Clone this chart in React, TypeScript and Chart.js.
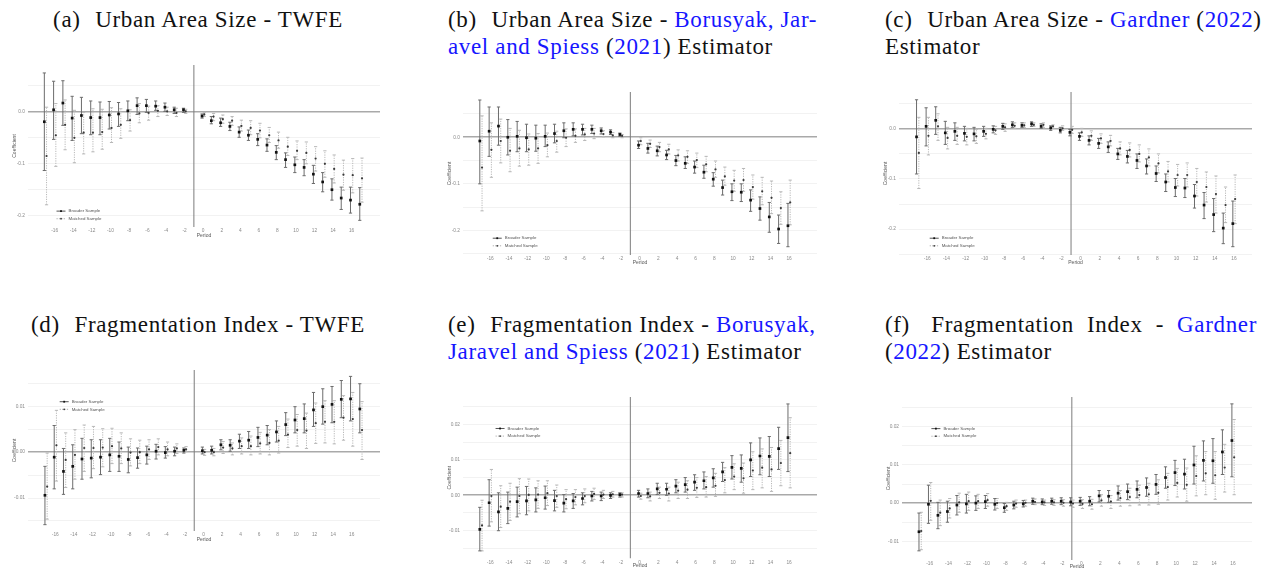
import React, { useEffect, useRef } from "react";
import { Chart, registerables } from "chart.js";

Chart.register(...registerables);

// ---------------------------------------------------------------------------
// Event-time periods used by each estimator
// ---------------------------------------------------------------------------
const twfePeriods = [-17, -16, -15, -14, -13, -12, -11, -10, -9, -8, -7, -6, -5, -4, -3, -2, 0, 1, 2, 3, 4, 5, 6, 7, 8, 9, 10, 11, 12, 13, 14, 15, 16, 17];
const bjsPeriods = [-17, -16, -15, -14, -13, -12, -11, -10, -9, -8, -7, -6, -5, -4, -3, -2, 0, 1, 2, 3, 4, 5, 6, 7, 8, 9, 10, 11, 12, 13, 14, 15, 16];
const gardnerPeriods = [-17, -16, -15, -14, -13, -12, -11, -10, -9, -8, -7, -6, -5, -4, -3, -2, -1, 0, 1, 2, 3, 4, 5, 6, 7, 8, 9, 10, 11, 12, 13, 14, 15, 16];

const periodTicks = [-16, -14, -12, -10, -8, -6, -4, -2, 0, 2, 4, 6, 8, 10, 12, 14, 16];
const REFERENCE_PERIOD = -1;

// y-axis gridlines and labelled ticks
const urbanGrid = [0.05, 0, -0.05, -0.1, -0.15, -0.2, -0.25];
const urbanLabels = [0, -0.1, -0.2];
const fragTwfeGrid = [0.015, 0.01, 0.005, 0, -0.005, -0.01, -0.015];
const fragTwfeLabels = [0.01, 0, -0.01];
const fragGrid = [0.025, 0.02, 0.015, 0.01, 0.005, 0, -0.005, -0.01, -0.015];
const fragLabels = [0.02, 0.01, 0, -0.01];

// ---------------------------------------------------------------------------
// (a) Urban Area Size - TWFE
// ---------------------------------------------------------------------------
const urbanTwfeBroaderEst = [-0.019, 0.004, 0.017, -0.012, -0.007, -0.011, -0.011, -0.006, -0.004, 0.002, 0.012, 0.012, 0.011, 0.009, 0.004, 0.004, -0.008, -0.017, -0.021, -0.028, -0.039, -0.045, -0.053, -0.064, -0.078, -0.092, -0.102, -0.107, -0.12, -0.135, -0.15, -0.166, -0.17, -0.178];
const urbanTwfeBroaderLo = [-0.113, -0.053, -0.026, -0.055, -0.042, -0.044, -0.044, -0.033, -0.028, -0.017, -0.005, -0.001, 0.003, 0.001, -0.003, -0.001, -0.012, -0.023, -0.028, -0.036, -0.049, -0.055, -0.065, -0.076, -0.092, -0.107, -0.117, -0.123, -0.138, -0.154, -0.17, -0.188, -0.195, -0.209];
const urbanTwfeBroaderHi = [0.075, 0.059, 0.06, 0.03, 0.028, 0.021, 0.019, 0.02, 0.018, 0.021, 0.027, 0.024, 0.021, 0.017, 0.009, 0.007, -0.004, -0.009, -0.012, -0.02, -0.029, -0.035, -0.042, -0.052, -0.065, -0.079, -0.087, -0.092, -0.103, -0.117, -0.129, -0.145, -0.145, -0.146];
const urbanTwfeMatchedEst = [-0.085, -0.045, -0.025, -0.05, -0.04, -0.04, -0.039, -0.031, -0.025, -0.016, -0.003, -0.002, 0.002, 0.001, -0.002, 0.001, -0.005, -0.009, -0.014, -0.017, -0.027, -0.031, -0.036, -0.045, -0.055, -0.067, -0.075, -0.079, -0.09, -0.1, -0.11, -0.121, -0.122, -0.128];
const urbanTwfeMatchedLo = [-0.179, -0.105, -0.073, -0.098, -0.081, -0.077, -0.072, -0.059, -0.051, -0.037, -0.021, -0.016, -0.009, -0.007, -0.009, -0.003, -0.009, -0.017, -0.022, -0.026, -0.037, -0.044, -0.05, -0.059, -0.07, -0.084, -0.092, -0.1, -0.114, -0.126, -0.137, -0.151, -0.156, -0.174];
const urbanTwfeMatchedHi = [0.009, 0.016, 0.023, 0.003, -0.001, 0.006, 0.005, 0.008, 0.006, 0.004, 0.016, 0.011, 0.012, 0.009, 0.007, 0.005, -0.001, -0.003, -0.006, -0.009, -0.016, -0.017, -0.022, -0.03, -0.039, -0.049, -0.056, -0.058, -0.067, -0.075, -0.083, -0.093, -0.09, -0.089];

// ---------------------------------------------------------------------------
// (b) Urban Area Size - Borusyak, Jaravel and Spiess
// ---------------------------------------------------------------------------
const urbanBjsBroaderEst = [-0.008, 0.013, 0.024, 0.0, 0.002, -0.001, -0.002, 0.002, 0.008, 0.014, 0.017, 0.017, 0.017, 0.014, 0.011, 0.006, -0.017, -0.024, -0.029, -0.038, -0.05, -0.056, -0.064, -0.075, -0.09, -0.108, -0.117, -0.118, -0.135, -0.153, -0.171, -0.197, -0.19];
const urbanBjsBroaderLo = [-0.1, -0.041, -0.017, -0.038, -0.031, -0.031, -0.03, -0.02, -0.012, -0.001, 0.003, 0.005, 0.008, 0.007, 0.006, 0.002, -0.024, -0.034, -0.04, -0.048, -0.061, -0.067, -0.077, -0.088, -0.105, -0.124, -0.136, -0.138, -0.159, -0.178, -0.204, -0.228, -0.235];
const urbanBjsBroaderHi = [0.08, 0.065, 0.065, 0.038, 0.034, 0.028, 0.026, 0.026, 0.028, 0.031, 0.031, 0.028, 0.026, 0.02, 0.016, 0.009, -0.008, -0.013, -0.019, -0.028, -0.039, -0.042, -0.051, -0.06, -0.076, -0.092, -0.1, -0.1, -0.113, -0.128, -0.14, -0.167, -0.142];
const urbanBjsMatchedEst = [-0.065, -0.027, -0.008, -0.029, -0.024, -0.026, -0.024, -0.017, -0.008, -0.001, 0.003, 0.006, 0.008, 0.007, 0.004, 0.003, -0.008, -0.014, -0.021, -0.026, -0.039, -0.042, -0.049, -0.058, -0.069, -0.084, -0.093, -0.092, -0.107, -0.116, -0.13, -0.152, -0.14];
const urbanBjsMatchedLo = [-0.158, -0.086, -0.055, -0.074, -0.062, -0.06, -0.056, -0.042, -0.032, -0.02, -0.011, -0.007, -0.003, 0.001, -0.001, -0.001, -0.016, -0.022, -0.031, -0.036, -0.051, -0.056, -0.065, -0.074, -0.086, -0.103, -0.116, -0.116, -0.133, -0.145, -0.164, -0.187, -0.188];
const urbanBjsMatchedHi = [0.046, 0.031, 0.039, 0.019, 0.015, 0.007, 0.008, 0.009, 0.013, 0.018, 0.018, 0.019, 0.019, 0.014, 0.01, 0.006, -0.001, -0.006, -0.011, -0.015, -0.027, -0.029, -0.034, -0.041, -0.051, -0.064, -0.071, -0.067, -0.081, -0.086, -0.094, -0.117, -0.092];

// ---------------------------------------------------------------------------
// (c) Urban Area Size - Gardner
// ---------------------------------------------------------------------------
const urbanGardnerBroaderEst = [-0.016, 0.005, 0.017, -0.008, -0.005, -0.009, -0.01, -0.005, -0.001, 0.005, 0.008, 0.007, 0.01, 0.005, 0.002, -0.003, -0.007, -0.015, -0.023, -0.029, -0.036, -0.05, -0.055, -0.063, -0.074, -0.089, -0.106, -0.117, -0.118, -0.134, -0.152, -0.171, -0.198, -0.189];
const urbanGardnerBroaderLo = [-0.09, -0.034, -0.011, -0.031, -0.023, -0.024, -0.024, -0.015, -0.008, -0.001, 0.003, 0.003, 0.005, 0.001, -0.003, -0.008, -0.014, -0.023, -0.032, -0.039, -0.047, -0.061, -0.068, -0.079, -0.09, -0.105, -0.125, -0.135, -0.137, -0.158, -0.179, -0.205, -0.229, -0.235];
const urbanGardnerBroaderHi = [0.058, 0.042, 0.044, 0.015, 0.012, 0.005, 0.003, 0.005, 0.006, 0.011, 0.014, 0.012, 0.014, 0.01, 0.006, 0.003, -0.001, -0.008, -0.014, -0.019, -0.026, -0.039, -0.043, -0.05, -0.06, -0.074, -0.09, -0.099, -0.099, -0.111, -0.127, -0.139, -0.168, -0.144];
const urbanGardnerMatchedEst = [-0.048, -0.014, 0.005, -0.018, -0.014, -0.016, -0.015, -0.01, -0.003, 0.003, 0.006, 0.007, 0.008, 0.008, 0.005, 0.001, -0.002, -0.007, -0.014, -0.019, -0.024, -0.039, -0.042, -0.05, -0.057, -0.069, -0.085, -0.092, -0.092, -0.106, -0.116, -0.13, -0.152, -0.14];
const urbanGardnerMatchedLo = [-0.119, -0.052, -0.023, -0.04, -0.031, -0.032, -0.029, -0.02, -0.011, -0.005, 0.001, 0.003, 0.005, 0.003, 0.001, -0.003, -0.009, -0.015, -0.023, -0.029, -0.034, -0.052, -0.056, -0.066, -0.074, -0.088, -0.106, -0.114, -0.116, -0.134, -0.146, -0.168, -0.187, -0.189];
const urbanGardnerMatchedHi = [0.023, 0.023, 0.03, 0.003, 0.003, 0.001, -0.001, 0.001, 0.005, 0.01, 0.012, 0.012, 0.012, 0.012, 0.008, 0.006, 0.005, 0.001, -0.004, -0.01, -0.013, -0.026, -0.028, -0.032, -0.04, -0.05, -0.065, -0.071, -0.068, -0.079, -0.086, -0.094, -0.116, -0.092];

// ---------------------------------------------------------------------------
// (d) Fragmentation Index - TWFE
// ---------------------------------------------------------------------------
const fragTwfeBroaderEst = [-0.0094, -0.0011, -0.0042, -0.0031, -0.0015, -0.0013, -0.0011, -0.0006, -0.0009, -0.0016, -0.0012, -0.0006, 0.0002, -0.0001, 0.0002, 0.0004, 0.0003, 0.0004, 0.0016, 0.0015, 0.0024, 0.0026, 0.0032, 0.0037, 0.0044, 0.006, 0.007, 0.0073, 0.0092, 0.0099, 0.0104, 0.0115, 0.0116, 0.0094];
const fragTwfeBroaderLo = [-0.0158, -0.008, -0.0092, -0.008, -0.0059, -0.0056, -0.0049, -0.0042, -0.0042, -0.0045, -0.0035, -0.0026, -0.0015, -0.0013, -0.0008, -0.0002, -0.0004, -0.0004, 0.0005, 0.0002, 0.0008, 0.0008, 0.0012, 0.0016, 0.0022, 0.0036, 0.0042, 0.0042, 0.0056, 0.0061, 0.0064, 0.0075, 0.0068, 0.0042];
const fragTwfeBroaderHi = [-0.0031, 0.0058, 0.0008, 0.0016, 0.003, 0.0027, 0.0027, 0.003, 0.0022, 0.0011, 0.0009, 0.0013, 0.0017, 0.0012, 0.0011, 0.0009, 0.0011, 0.0013, 0.0027, 0.0027, 0.0039, 0.0045, 0.0054, 0.0058, 0.0068, 0.0086, 0.0099, 0.0105, 0.013, 0.0138, 0.0143, 0.0156, 0.0165, 0.0149];
const fragTwfeMatchedEst = [-0.0075, 0.0015, -0.0017, -0.0006, 0.0009, 0.0009, 0.001, 0.0013, 0.0008, -0.0001, 0.0, 0.0006, 0.0011, 0.0006, 0.0008, 0.0006, 0.0, 0.0, 0.001, 0.0008, 0.0013, 0.0013, 0.0019, 0.002, 0.0025, 0.0038, 0.0048, 0.0047, 0.0063, 0.0066, 0.0066, 0.0075, 0.0072, 0.0048];
const fragTwfeMatchedLo = [-0.0146, -0.0063, -0.0077, -0.0059, -0.0042, -0.0036, -0.0032, -0.0025, -0.0025, -0.003, -0.0025, -0.0016, -0.0006, -0.0008, -0.0003, 0.0001, -0.0007, -0.0008, -0.0003, -0.0006, -0.0004, -0.0006, -0.0004, -0.0006, -0.0002, 0.001, 0.0013, 0.0008, 0.0019, 0.002, 0.0018, 0.0026, 0.0013, -0.0016];
const fragTwfeMatchedHi = [-0.0002, 0.0091, 0.0042, 0.0049, 0.0059, 0.0056, 0.0051, 0.0052, 0.0042, 0.0029, 0.0026, 0.0027, 0.0029, 0.0022, 0.0018, 0.0012, 0.0006, 0.0008, 0.0023, 0.002, 0.0031, 0.0035, 0.0043, 0.0049, 0.0056, 0.0072, 0.0082, 0.0085, 0.0107, 0.0112, 0.0112, 0.0123, 0.013, 0.011];

// ---------------------------------------------------------------------------
// (e) Fragmentation Index - Borusyak, Jaravel and Spiess
// ---------------------------------------------------------------------------
const fragBjsBroaderEst = [-0.0096, -0.0021, -0.0047, -0.0037, -0.0018, -0.0016, -0.0013, -0.0007, -0.0015, -0.0022, -0.0016, -0.0009, -0.0002, -0.0002, 0.0, 0.0002, 0.0005, 0.0005, 0.0018, 0.0017, 0.0026, 0.003, 0.0037, 0.0041, 0.0049, 0.0066, 0.0079, 0.0076, 0.01, 0.0111, 0.011, 0.0132, 0.0163];
const fragBjsBroaderLo = [-0.0157, -0.0087, -0.01, -0.008, -0.0061, -0.0055, -0.0047, -0.0039, -0.0044, -0.0047, -0.0037, -0.0027, -0.0016, -0.0015, -0.0009, -0.0005, -0.0005, -0.0007, 0.0002, 0.0, 0.0007, 0.0009, 0.0014, 0.0018, 0.0023, 0.0039, 0.0046, 0.0037, 0.0053, 0.0058, 0.0053, 0.0073, 0.0067];
const fragBjsBroaderHi = [-0.0034, 0.0044, 0.0007, 0.0009, 0.0023, 0.0025, 0.0021, 0.0026, 0.0014, 0.0002, 0.0005, 0.0007, 0.0011, 0.0009, 0.0007, 0.0007, 0.0014, 0.0018, 0.0034, 0.0034, 0.0044, 0.005, 0.0058, 0.0066, 0.0075, 0.0093, 0.0112, 0.0114, 0.0148, 0.0162, 0.0166, 0.0192, 0.0258];
const fragBjsMatchedEst = [-0.0085, -0.0002, -0.0032, -0.0018, -0.0002, 0.0001, 0.0002, 0.0006, -0.0002, -0.0011, -0.0005, -0.0002, 0.0004, 0.0002, 0.0003, 0.0002, -0.0002, -0.0003, 0.0007, 0.0005, 0.0013, 0.0016, 0.0021, 0.0023, 0.0027, 0.0043, 0.0053, 0.0048, 0.007, 0.0078, 0.0073, 0.0091, 0.0119];
const fragBjsMatchedLo = [-0.0157, -0.0075, -0.0091, -0.0071, -0.0052, -0.0044, -0.0037, -0.0029, -0.0034, -0.0038, -0.0027, -0.0021, -0.0012, -0.0009, -0.0005, -0.0005, -0.0011, -0.0016, -0.0009, -0.0016, -0.0009, -0.0009, -0.0006, -0.0005, -0.0003, 0.0007, 0.0016, 0.0006, 0.0016, 0.0021, 0.0011, 0.0027, 0.0021];
const fragBjsMatchedHi = [-0.0014, 0.0073, 0.0027, 0.0034, 0.0047, 0.0046, 0.0041, 0.0041, 0.0029, 0.0016, 0.0016, 0.0018, 0.002, 0.0014, 0.0011, 0.0007, 0.0006, 0.0009, 0.0023, 0.0023, 0.0037, 0.0041, 0.005, 0.0053, 0.0062, 0.0078, 0.0089, 0.0091, 0.0123, 0.0131, 0.0135, 0.0155, 0.0219];

// ---------------------------------------------------------------------------
// (f) Fragmentation Index - Gardner
// ---------------------------------------------------------------------------
const fragGardnerBroaderEst = [-0.0075, -0.0003, -0.0032, -0.0022, -0.0005, -0.0002, 0.0, 0.0004, -0.0003, -0.0012, -0.0005, -0.0002, 0.0005, 0.0003, 0.0005, 0.0005, 0.0003, 0.0005, 0.0005, 0.0019, 0.0018, 0.0026, 0.003, 0.0036, 0.0041, 0.0049, 0.0067, 0.008, 0.0076, 0.01, 0.0112, 0.0111, 0.0134, 0.0164];
const fragGardnerBroaderLo = [-0.0125, -0.0053, -0.0067, -0.005, -0.0031, -0.0026, -0.0019, -0.0014, -0.0018, -0.0024, -0.0015, -0.001, -0.0003, -0.0004, -0.0003, -0.0004, -0.0007, -0.0006, -0.0007, 0.0003, 0.0002, 0.0008, 0.0009, 0.0014, 0.0018, 0.0023, 0.0039, 0.0046, 0.0037, 0.005, 0.0058, 0.0052, 0.0075, 0.0069];
const fragGardnerBroaderHi = [-0.0026, 0.0047, 0.0002, 0.0005, 0.002, 0.0023, 0.0019, 0.002, 0.0012, -0.0001, 0.0005, 0.0007, 0.0013, 0.0011, 0.0013, 0.0014, 0.0014, 0.0015, 0.0017, 0.0033, 0.0033, 0.0045, 0.005, 0.0058, 0.0066, 0.0075, 0.0095, 0.0112, 0.0115, 0.0149, 0.0163, 0.0169, 0.0192, 0.026];
const fragGardnerMatchedEst = [-0.0073, 0.0006, -0.0025, -0.0014, 0.0002, 0.0005, 0.0005, 0.0008, 0.0, -0.0008, -0.0001, 0.0001, 0.0003, 0.0002, 0.0002, 0.0001, -0.0001, -0.0002, -0.0003, 0.0007, 0.0004, 0.0013, 0.0016, 0.0021, 0.0023, 0.0027, 0.0042, 0.0053, 0.0048, 0.0071, 0.0078, 0.0073, 0.0093, 0.012];
const fragGardnerMatchedLo = [-0.0122, -0.0045, -0.0059, -0.0039, -0.0024, -0.0019, -0.0014, -0.0008, -0.0014, -0.0019, -0.0011, -0.0008, -0.0004, -0.0006, -0.0006, -0.0008, -0.0011, -0.0014, -0.0016, -0.0008, -0.0014, -0.0008, -0.0007, -0.0005, -0.0005, -0.0003, 0.0008, 0.0016, 0.0005, 0.0019, 0.0022, 0.001, 0.0029, 0.0022];
const fragGardnerMatchedHi = [-0.0024, 0.0054, 0.0008, 0.0012, 0.0026, 0.0029, 0.0023, 0.0025, 0.0012, 0.0002, 0.0008, 0.0008, 0.0011, 0.0008, 0.0009, 0.0009, 0.0008, 0.0009, 0.001, 0.0022, 0.002, 0.0033, 0.0039, 0.0047, 0.0052, 0.0061, 0.0078, 0.0091, 0.0092, 0.0124, 0.0135, 0.0135, 0.0154, 0.0219];

// ---------------------------------------------------------------------------
// Styling
// ---------------------------------------------------------------------------
const SANS = "'Liberation Sans', Arial, Helvetica, sans-serif";
const SERIF = "'Liberation Serif', 'DejaVu Serif', serif";
const LINK_BLUE = "#1616ff";
const DODGE = 0.12;
const BROADER_BAR = "#6c6c6c";
const MATCHED_BAR = "#b8b8b8";
const BROADER_POINT = "#111111";
const MATCHED_POINT = "#3a3a3a";

type Series = { est: number[]; lo: number[]; hi: number[] };

type PanelSpec = {
  left: number;
  top: number;
  width: number;
  height: number;
  yAxisWidth: number;
  xAxisHeight: number;
  xRange: [number, number];
  yRange: [number, number];
  yGrid: number[];
  yLabels: number[];
  yDigits: number;
  periods: number[];
  broader: Series;
  matched: Series;
  key: { fx: number; fy: number };
};

const panels: PanelSpec[] = [
  {
    left: 12, top: 60, width: 373, height: 179, yAxisWidth: 16, xAxisHeight: 12,
    xRange: [-18.88, 19.06], yRange: [-0.2218, 0.0903],
    yGrid: urbanGrid, yLabels: urbanLabels, yDigits: 1, periods: twfePeriods,
    broader: { est: urbanTwfeBroaderEst, lo: urbanTwfeBroaderLo, hi: urbanTwfeBroaderHi },
    matched: { est: urbanTwfeMatchedEst, lo: urbanTwfeMatchedLo, hi: urbanTwfeMatchedHi },
    key: { fx: 0.081, fy: 0.902 },
  },
  {
    left: 447, top: 87, width: 375, height: 179, yAxisWidth: 16, xAxisHeight: 11,
    xRange: [-18.92, 18.99], yRange: [-0.2528, 0.0972],
    yGrid: urbanGrid, yLabels: urbanLabels, yDigits: 1, periods: bjsPeriods,
    broader: { est: urbanBjsBroaderEst, lo: urbanBjsBroaderLo, hi: urbanBjsBroaderHi },
    matched: { est: urbanBjsMatchedEst, lo: urbanBjsMatchedLo, hi: urbanBjsMatchedHi },
    key: { fx: 0.084, fy: 0.897 },
  },
  {
    left: 883, top: 87, width: 374, height: 179, yAxisWidth: 16, xAxisHeight: 11,
    xRange: [-18.95, 17.88], yRange: [-0.2516, 0.0735],
    yGrid: urbanGrid, yLabels: urbanLabels, yDigits: 1, periods: gardnerPeriods,
    broader: { est: urbanGardnerBroaderEst, lo: urbanGardnerBroaderLo, hi: urbanGardnerBroaderHi },
    matched: { est: urbanGardnerMatchedEst, lo: urbanGardnerMatchedLo, hi: urbanGardnerMatchedHi },
    key: { fx: 0.087, fy: 0.897 },
  },
  {
    left: 12, top: 365, width: 373, height: 178, yAxisWidth: 16, xAxisHeight: 12,
    xRange: [-18.95, 19.06], yRange: [-0.01718, 0.01789],
    yGrid: fragTwfeGrid, yLabels: fragTwfeLabels, yDigits: 2, periods: twfePeriods,
    broader: { est: fragTwfeBroaderEst, lo: fragTwfeBroaderLo, hi: fragTwfeBroaderHi },
    matched: { est: fragTwfeMatchedEst, lo: fragTwfeMatchedLo, hi: fragTwfeMatchedHi },
    key: { fx: 0.09, fy: 0.197 },
  },
  {
    left: 447, top: 392, width: 375, height: 177, yAxisWidth: 16, xAxisHeight: 10.5,
    xRange: [-18.92, 18.99], yRange: [-0.01785, 0.02776],
    yGrid: fragGrid, yLabels: fragLabels, yDigits: 2, periods: bjsPeriods,
    broader: { est: fragBjsBroaderEst, lo: fragBjsBroaderLo, hi: fragBjsBroaderHi },
    matched: { est: fragBjsMatchedEst, lo: fragBjsMatchedLo, hi: fragBjsMatchedHi },
    key: { fx: 0.092, fy: 0.195 },
  },
  {
    left: 886, top: 392, width: 371, height: 178, yAxisWidth: 16, xAxisHeight: 10,
    xRange: [-18.91, 18.0], yRange: [-0.0149, 0.0278],
    yGrid: fragGrid, yLabels: fragLabels, yDigits: 2, periods: gardnerPeriods,
    broader: { est: fragGardnerBroaderEst, lo: fragGardnerBroaderLo, hi: fragGardnerBroaderHi },
    matched: { est: fragGardnerMatchedEst, lo: fragGardnerMatchedLo, hi: fragGardnerMatchedHi },
    key: { fx: 0.084, fy: 0.194 },
  },
];

// ---------------------------------------------------------------------------
// Panel captions (segments flagged true are citation links)
// ---------------------------------------------------------------------------
type Seg = [string, boolean];
type Caption = {
  left: number;
  top: number;
  width: number;
  centered: boolean;
  lines: Seg[][];
};

const LABEL_GAP = "\u2004 ";

const captions: Caption[] = [
  { left: 8, top: 6.2, width: 380, centered: true, lines: [[["(a)" + LABEL_GAP + "Urban Area Size - TWFE", false]]] },
  {
    left: 448, top: 6.2, width: 364, centered: false,
    lines: [
      [["(b)" + LABEL_GAP + "Urban Area Size - ", false], ["Borusyak, Jar-", true]],
      [["avel and Spiess", true], [" (", false], ["2021", true], [") Estimator", false]],
    ],
  },
  {
    left: 885, top: 6.2, width: 372, centered: false,
    lines: [
      [["(c)" + LABEL_GAP + "Urban Area Size - ", false], ["Gardner", true], [" (", false], ["2022", true], [")", false]],
      [["Estimator", false]],
    ],
  },
  { left: 8, top: 311, width: 380, centered: true, lines: [[["(d)" + LABEL_GAP + "Fragmentation Index - TWFE", false]]] },
  {
    left: 448, top: 311, width: 364, centered: false,
    lines: [
      [["(e)" + LABEL_GAP + "Fragmentation Index - ", false], ["Borusyak,", true]],
      [["Jaravel and Spiess", true], [" (", false], ["2021", true], [") Estimator", false]],
    ],
  },
  {
    left: 885, top: 311, width: 372, centered: false,
    lines: [
      [["(f)" + LABEL_GAP + "Fragmentation Index - ", false], ["Gardner", true]],
      [["(", false], ["2022", true], [") Estimator", false]],
    ],
  },
];

// ---------------------------------------------------------------------------
// Chart helpers
// ---------------------------------------------------------------------------
function whiskers(periods: number[], s: Series, shift: number) {
  const pts: { x: number; y: number | null }[] = [];
  periods.forEach((p, i) => {
    pts.push({ x: p + shift, y: s.lo[i] }, { x: p + shift, y: s.hi[i] }, { x: p + shift, y: null });
  });
  return pts;
}

function caps(periods: number[], s: Series, shift: number) {
  const pts: { x: number; y: number }[] = [];
  periods.forEach((p, i) => {
    pts.push({ x: p + shift, y: s.lo[i] }, { x: p + shift, y: s.hi[i] });
  });
  return pts;
}

function estimates(periods: number[], s: Series, shift: number) {
  return periods.map((p, i) => ({ x: p + shift, y: s.est[i] }));
}

const sampleKeyPlugin = {
  id: "sampleKey",
  afterDatasetsDraw(chart: any, _args: any, opts: any) {
    const { ctx, chartArea } = chart;
    const x0 = chartArea.left + opts.fx * (chartArea.right - chartArea.left);
    const y0 = chartArea.top + opts.fy * (chartArea.bottom - chartArea.top);
    const rows = [
      { label: "Broader Sample", line: "#2a2a2a", dash: [] as number[], dot: BROADER_POINT, square: true },
      { label: "Matched Sample", line: "#9a9a9a", dash: [1.2, 1.2], dot: MATCHED_POINT, square: false },
    ];
    ctx.save();
    rows.forEach((r, i) => {
      const y = y0 + i * 7.6;
      ctx.strokeStyle = r.line;
      ctx.lineWidth = 0.8;
      ctx.setLineDash(r.dash);
      ctx.beginPath();
      ctx.moveTo(x0, y);
      ctx.lineTo(x0 + 9, y);
      ctx.stroke();
      ctx.setLineDash([]);
      ctx.fillStyle = r.dot;
      if (r.square) {
        ctx.fillRect(x0 + 3.6, y - 0.9, 1.8, 1.8);
      } else {
        ctx.beginPath();
        ctx.arc(x0 + 4.5, y, 0.9, 0, Math.PI * 2);
        ctx.fill();
      }
      ctx.fillStyle = "#555555";
      ctx.font = `4.4px ${SANS}`;
      ctx.textBaseline = "middle";
      ctx.textAlign = "left";
      ctx.fillText(r.label, x0 + 12, y);
    });
    ctx.restore();
  },
};

function EventStudyPanel({ spec }: { spec: PanelSpec }) {
  const ref = useRef<HTMLCanvasElement | null>(null);

  useEffect(() => {
    if (!ref.current) return;
    const [xMin, xMax] = spec.xRange;
    const [yMin, yMax] = spec.yRange;
    const isLabelled = (v: number) => spec.yLabels.some((l) => Math.abs(l - v) < 1e-9);

    const chart = new Chart(ref.current, {
      type: "scatter",
      data: {
        datasets: [
          {
            type: "scatter",
            data: estimates(spec.periods, spec.broader, -DODGE),
            pointStyle: "rect",
            pointRadius: 1.9,
            backgroundColor: BROADER_POINT,
            borderWidth: 0,
            order: 1,
          },
          {
            type: "scatter",
            data: estimates(spec.periods, spec.matched, DODGE),
            pointStyle: "circle",
            pointRadius: 1.1,
            backgroundColor: MATCHED_POINT,
            borderWidth: 0,
            order: 2,
          },
          {
            type: "scatter",
            data: caps(spec.periods, spec.broader, -DODGE),
            pointStyle: "line",
            pointRadius: 1.6,
            borderColor: BROADER_BAR,
            borderWidth: 1,
            order: 3,
          },
          {
            type: "line",
            data: whiskers(spec.periods, spec.broader, -DODGE),
            borderColor: BROADER_BAR,
            borderWidth: 1,
            pointRadius: 0,
            spanGaps: false,
            order: 4,
          },
          {
            type: "scatter",
            data: caps(spec.periods, spec.matched, DODGE),
            pointStyle: "line",
            pointRadius: 1.6,
            borderColor: MATCHED_BAR,
            borderWidth: 1,
            order: 5,
          },
          {
            type: "line",
            data: whiskers(spec.periods, spec.matched, DODGE),
            borderColor: MATCHED_BAR,
            borderWidth: 1,
            borderDash: [1.2, 1.2],
            pointRadius: 0,
            spanGaps: false,
            order: 6,
          },
          {
            type: "line",
            data: [
              { x: REFERENCE_PERIOD, y: yMin },
              { x: REFERENCE_PERIOD, y: yMax },
            ],
            borderColor: "#7c7c7c",
            borderWidth: 1,
            pointRadius: 0,
            order: 7,
          },
        ] as any,
      },
      options: {
        animation: false,
        responsive: false,
        events: [],
        layout: { padding: 0 },
        plugins: {
          legend: { display: false },
          tooltip: { enabled: false },
          sampleKey: spec.key,
        } as any,
        scales: {
          x: {
            type: "linear",
            min: xMin,
            max: xMax,
            afterBuildTicks: (s: any) => {
              s.ticks = periodTicks.map((v) => ({ value: v }));
            },
            afterFit: (s: any) => {
              s.height = spec.xAxisHeight;
              s.paddingLeft = 0;
              s.paddingRight = 0;
            },
            grid: { display: false, drawTicks: false },
            border: { display: false },
            ticks: {
              autoSkip: false,
              maxRotation: 0,
              minRotation: 0,
              padding: 1,
              color: "#8a8a8a",
              font: { family: SANS, size: 4.8 },
              callback: (v: any) => String(v),
            },
            title: {
              display: true,
              text: "Period",
              color: "#555555",
              padding: 0,
              font: { family: SANS, size: 5 },
            },
          },
          y: {
            type: "linear",
            min: yMin,
            max: yMax,
            afterBuildTicks: (s: any) => {
              s.ticks = spec.yGrid.filter((v) => v >= yMin && v <= yMax).map((v) => ({ value: v }));
            },
            afterFit: (s: any) => {
              s.width = spec.yAxisWidth;
              s.paddingTop = 0;
              s.paddingBottom = 0;
            },
            grid: {
              drawTicks: false,
              color: (c: any) => (c.tick && Math.abs(c.tick.value) < 1e-12 ? "#a9a9a9" : "#efefef"),
              lineWidth: (c: any) => (c.tick && Math.abs(c.tick.value) < 1e-12 ? 1.6 : 0.8),
            },
            border: { display: false },
            ticks: {
              autoSkip: false,
              padding: 3,
              color: "#8a8a8a",
              font: { family: SANS, size: 4.8 },
              callback: (v: any) => (isLabelled(Number(v)) ? Number(v).toFixed(spec.yDigits) : ""),
            },
            title: {
              display: true,
              text: "Coefficient",
              color: "#555555",
              padding: 0,
              font: { family: SANS, size: 5 },
            },
          },
        },
      },
      plugins: [sampleKeyPlugin],
    } as any);

    return () => chart.destroy();
  }, [spec]);

  return (
    <canvas
      ref={ref}
      width={spec.width}
      height={spec.height}
      style={{ position: "absolute", left: spec.left, top: spec.top, width: spec.width, height: spec.height }}
    />
  );
}

function PanelCaption({ cap }: { cap: Caption }) {
  return (
    <div
      style={{
        position: "absolute",
        left: cap.left,
        top: cap.top,
        width: cap.width,
        fontFamily: SERIF,
        fontSize: 23,
        lineHeight: "27px",
        letterSpacing: "0.65px",
        color: "#111111",
      }}
    >
      {cap.lines.map((line, li) => {
        const justified = !cap.centered && li < cap.lines.length - 1;
        return (
          <div
            key={li}
            style={{
              whiteSpace: "nowrap",
              textAlign: cap.centered ? "center" : justified ? "justify" : "left",
              textAlignLast: cap.centered ? "center" : justified ? "justify" : "left",
            }}
          >
            {line.map(([text, link], si) => (
              <span key={si} style={{ color: link ? LINK_BLUE : undefined }}>
                {text}
              </span>
            ))}
          </div>
        );
      })}
    </div>
  );
}

export default function App() {
  return (
    <div
      style={{
        position: "fixed",
        left: 0,
        top: 0,
        width: 1272,
        height: 569,
        overflow: "hidden",
        background: "#ffffff",
      }}
    >
      {captions.map((c, i) => (
        <PanelCaption key={i} cap={c} />
      ))}
      {panels.map((p, i) => (
        <EventStudyPanel key={i} spec={p} />
      ))}
    </div>
  );
}
